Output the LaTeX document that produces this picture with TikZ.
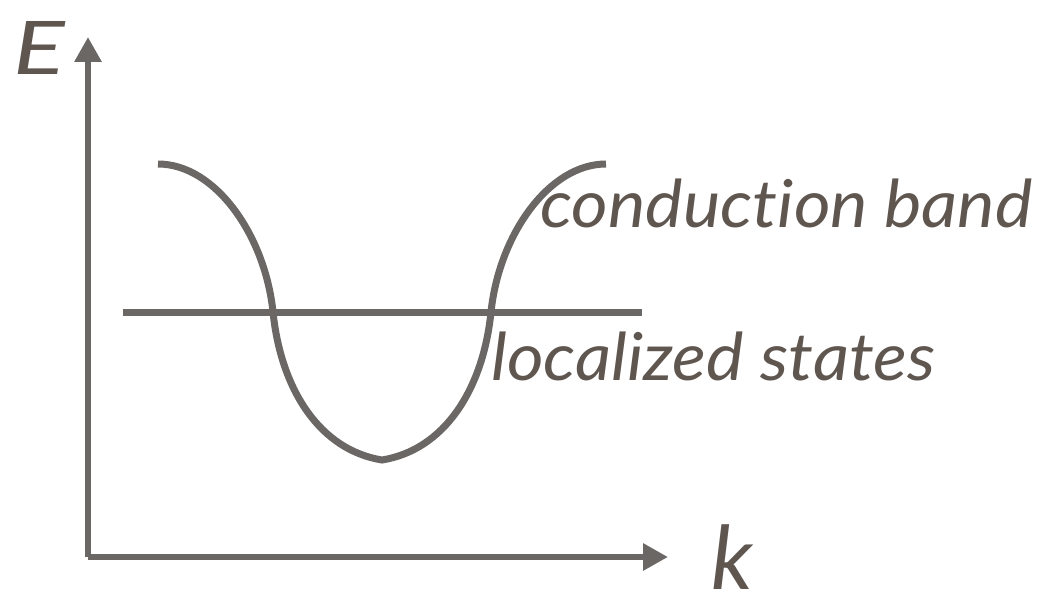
\documentclass[tikz,border=0pt]{standalone}
\usepackage{fontspec}
\setmainfont{Lato}[Ligatures={NoCommon}]
\newfontfamily\lblfont{Lato}[Ligatures={NoCommon}, FakeStretch=1.07]
\usetikzlibrary{arrows.meta}
\definecolor{linegray}{HTML}{6A6764}
\definecolor{textbrown}{HTML}{5F5650}
\tikzset{
  axis/.style={draw=linegray, line width=6pt, -{Triangle[length=25pt 0 0, width=26pt 0 0]}},
  band/.style={draw=linegray, line width=7pt},
  lbl/.style={text=textbrown, inner sep=0pt, font=\lblfont\itshape\fontsize{66}{70}\selectfont},
}
\begin{document}
\begin{tikzpicture}[x=1pt,y=-1pt]
\useasboundingbox (0,0) rectangle (1041,596);
\coordinate (O) at (88,557);
\coordinate (Etop) at (88,37);
\coordinate (kend) at (668,557);
\draw[axis] (O) -- (Etop);
\draw[axis] (O) -- (kend);
\node[lbl, font=\itshape\fontsize{74}{80}\selectfont, anchor=base west] (E) at (13,75) {\scalebox{1.3}[1]{E}};
\node[lbl, font=\itshape\fontsize{88}{96}\selectfont, anchor=base west] (k) at (711,589) {k};
% localized states line
\coordinate (L1) at (123,312);
\coordinate (L2) at (642,312);
\draw[band, line cap=butt] (L1) -- (L2);
% conduction band curve
\coordinate (C1) at (158,164);
\coordinate (X1) at (273,312);
\coordinate (B) at (382,460);
\coordinate (X2) at (491,312);
\coordinate (C2) at (606,164);
\draw[band] (C1) .. controls (215,164) and (265,235) .. (X1)
  .. controls (281,390) and (320,450) .. (B)
  .. controls (444,450) and (483,390) .. (X2)
  .. controls (499,235) and (549,164) .. (C2);
\node[lbl, anchor=base west] (cb) at (540,228) {conduction band};
\node[lbl, anchor=base west] (ls) at (491,380) {localized states};
\end{tikzpicture}
\end{document}
